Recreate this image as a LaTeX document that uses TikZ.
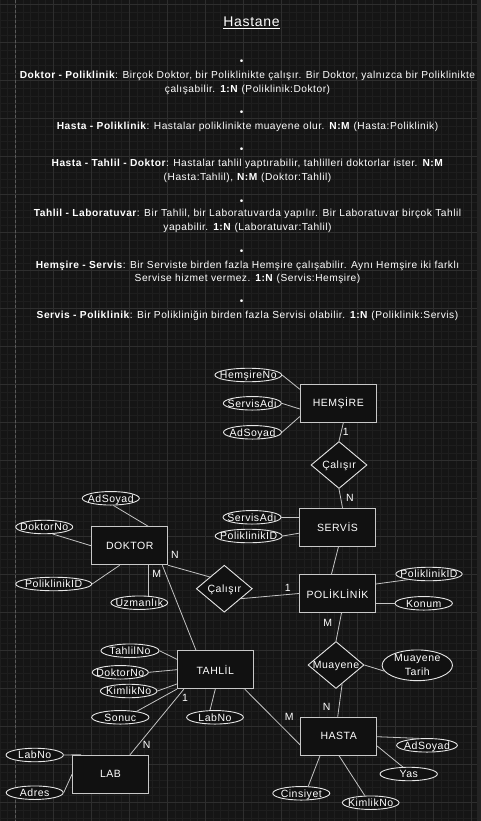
\documentclass[tikz,border=0pt]{standalone}
\usepackage{fontspec}
\setmainfont{Liberation Sans}[LetterSpace=5]
\usetikzlibrary{shapes.geometric}
\definecolor{bgc}{HTML}{151515}
\definecolor{minorc}{HTML}{1E1E1E}
\definecolor{majorc}{HTML}{2E2E2E}
\definecolor{boxfill}{HTML}{111111}
\definecolor{boxline}{HTML}{C8C8C8}
\definecolor{elline}{HTML}{E6E6E6}
\definecolor{conn}{HTML}{C4C4C4}
\definecolor{pagec}{HTML}{5A5A5A}
\definecolor{scrollc}{HTML}{242424}
\newcommand{\fixt}[1]{\makebox[0pt]{#1}}
\tikzset{
  entity/.style={draw=boxline, fill=boxfill, line width=0.9pt, minimum width=76pt, minimum height=38pt, inner sep=0pt, text=white, font=\fontsize{10.5}{12}\selectfont},
  attr/.style={ellipse, draw=elline, fill=boxfill, line width=0.9pt, minimum height=13.5pt, inner sep=0pt, text=white, text height=7.5pt, text depth=0pt, font=\fontsize{10.5}{12}\selectfont},
  rel/.style={diamond, draw=elline, fill=boxfill, line width=0.9pt, minimum width=56pt, minimum height=47pt, inner sep=0pt, text=white, text height=7.5pt, text depth=0pt, font=\fontsize{10.5}{12}\selectfont},
  link/.style={draw=conn, line width=0.8pt},
  card/.style={text=white, inner sep=0pt, font=\fontsize{10.5}{12}\selectfont},
  para/.style={text=white, align=center, inner sep=0pt, font=\fontsize{10.2}{13.6}\selectfont},
  bul/.style={text=white, inner sep=0pt, font=\fontsize{10}{10}\selectfont},
  minorgrid/.style={draw=minorc, line width=0.6pt},
  majorgrid/.style={draw=majorc, line width=0.8pt}
}
\begin{document}
\begin{tikzpicture}[x=1pt,y=-1pt]
\useasboundingbox (0,0) rectangle (481,821);
\fill[bgc] (0,0) rectangle (481,821);
\foreach \i in {-2,...,61} { \draw[minorgrid] ({15.3+7.6*\i},0) -- ({15.3+7.6*\i},821); }
\foreach \j in {0,...,108} { \draw[minorgrid] (0,{4.7+7.6*\j}) -- (481,{4.7+7.6*\j}); }
\foreach \i in {-1,...,12} { \draw[majorgrid] ({15.3+38*\i},0) -- ({15.3+38*\i},821); }
\foreach \j in {0,...,21} { \draw[majorgrid] (0,{4.7+38*\j}) -- (481,{4.7+38*\j}); }
\draw[pagec, line width=0.8pt, dash pattern=on 3pt off 2pt] (15.3,0) -- (15.3,821);
\fill[scrollc] (476.5,0) rectangle (481,821);

% text block
\node[text=white, inner sep=0pt, font=\fontsize{14}{16}\selectfont] (title) at (251.5,22.7) {\underline{Hastane}};
\node[bul] (b1) at (241.7,61.7) {•};
\node[para] (p1) at (247.5,83) {\textbf{Doktor - Poliklinik}: Birçok Doktor, bir Poliklinikte çalışır. Bir Doktor, yalnızca bir Poliklinikte\\ çalışabilir. \textbf{1:N} (Poliklinik:Doktor)};
\node[bul] (b2) at (241.7,113) {•};
\node[para] (p2) at (247.5,126.7) {\textbf{Hasta - Poliklinik}: Hastalar poliklinikte muayene olur. \textbf{N:M} (Hasta:Poliklinik)};
\node[bul] (b3) at (241.7,150) {•};
\node[para] (p3) at (247.5,170.8) {\textbf{Hasta - Tahlil - Doktor}: Hastalar tahlil yaptırabilir, tahlilleri doktorlar ister. \textbf{N:M}\\ (Hasta:Tahlil), \textbf{N:M} (Doktor:Tahlil)};
\node[bul] (b4) at (241.7,201.7) {•};
\node[para] (p4) at (247.5,220.9) {\textbf{Tahlil - Laboratuvar}: Bir Tahlil, bir Laboratuvarda yapılır. Bir Laboratuvar birçok Tahlil\\ yapabilir. \textbf{1:N} (Laboratuvar:Tahlil)};
\node[bul] (b5) at (241.7,251.7) {•};
\node[para] (p5) at (247.5,272.4) {\textbf{Hemşire - Servis}: Bir Serviste birden fazla Hemşire çalışabilir. Aynı Hemşire iki farklı\\ Servise hizmet vermez. \textbf{1:N} (Servis:Hemşire)};
\node[bul] (b6) at (241.7,302.3) {•};
\node[para] (p6) at (247.5,315.7) {\textbf{Servis - Poliklinik}: Bir Polikliniğin birden fazla Servisi olabilir. \textbf{1:N} (Poliklinik:Servis)};

% entities
\node[entity] (hem) at (338.3,403.5) {HEMŞİRE};
\node[entity] (srv) at (337.5,527.2) {SERVİS};
\node[entity] (pol) at (337.5,593.5) {POLİKLİNİK};
\node[entity] (dok) at (129.7,545.8) {DOKTOR};
\node[entity] (tah) at (215.3,669.7) {TAHLİL};
\node[entity] (lab) at (110.5,774.2) {LAB};
\node[entity] (has) at (338.7,736.2) {HASTA};

% relationships
\node[rel] (cal1) at (339,465) {\fixt{Çalışır}};
\node[rel] (cal2) at (224.3,588.7) {\fixt{Çalışır}};
\node[rel] (mua) at (336,665) {\fixt{Muayene}};

% attributes
\node[attr, minimum width=66.7pt] (hemNo) at (248.3,375) {\fixt{HemşireNo}};
\node[attr, minimum width=58pt] (hemSA) at (252.3,403.3) {\fixt{ServisAdı}};
\node[attr, minimum width=58pt] (hemAS) at (252.5,432.3) {\fixt{AdSoyad}};
\node[attr, minimum width=58pt] (srvSA) at (252,517.3) {\fixt{ServisAdı}};
\node[attr, minimum width=67pt] (srvPID) at (248.7,536) {\fixt{PoliklinikID}};
\node[attr, minimum width=66.3pt] (polPID) at (429,574) {\fixt{PoliklinikID}};
\node[attr, minimum width=57.3pt] (polKon) at (423.7,603.3) {\fixt{Konum}};
\node[attr, minimum width=57pt] (dokAS) at (110.8,498.3) {\fixt{AdSoyad}};
\node[attr, minimum width=57pt] (dokNo) at (44.2,527) {\fixt{DoktorNo}};
\node[attr, minimum width=76pt] (dokPID) at (53.7,584) {\fixt{PoliklinikID}};
\node[attr, minimum width=56.7pt] (dokUz) at (139.3,602.7) {\fixt{Uzmanlık}};
\node[attr, minimum width=58pt] (tahNo) at (130,650.7) {\fixt{TahlilNo}};
\node[attr, minimum width=56pt] (tahDN) at (120.3,672.3) {\fixt{DoktorNo}};
\node[attr, minimum width=56.7pt] (tahKN) at (128.7,691) {\fixt{KimlikNo}};
\node[attr, minimum width=57.3pt] (tahSon) at (120.3,717.3) {\fixt{Sonuc}};
\node[attr, minimum width=56.7pt] (tahLab) at (215,717.3) {\fixt{LabNo}};
\node[attr, minimum width=57.3pt] (labNo) at (34.7,755) {\fixt{LabNo}};
\node[attr, minimum width=57pt] (labAd) at (34.7,792.7) {\fixt{Adres}};
\node[attr, minimum width=70.3pt, minimum height=30.7pt, text height=, text depth=, font=\fontsize{10.5}{13.5}\selectfont] (muaT) at (417.3,665.3) {\fixt{\shortstack{Muayene\\[1pt]Tarih}}};
\node[attr, minimum width=60.7pt] (hasAS) at (427,745.3) {\fixt{AdSoyad}};
\node[attr, minimum width=57.3pt] (hasYas) at (408.7,774) {\fixt{Yas}};
\node[attr, minimum width=57pt] (hasCin) at (301.3,793.3) {\fixt{Cinsiyet}};
\node[attr, minimum width=56.7pt] (hasKN) at (370.7,802.7) {\fixt{KimlikNo}};

% connectors
\draw[link] (hemNo.east) -- ([yshift=14.2pt]hem.west);
\draw[link] (hemSA.east) -- ([yshift=-5.5pt]hem.west);
\draw[link] (hemAS.east) -- ([yshift=-13pt]hem.west);
\draw[link] ([xshift=5pt]hem.south) -- (cal1.north);
\draw[link] (cal1.south) -- ([xshift=5pt]srv.north);
\draw[link] (srvSA.east) -- ([yshift=9.9pt]srv.west);
\draw[link] (srvPID.east) -- ([yshift=-6pt]srv.west);
\draw[link] ([xshift=1pt]srv.south) -- ([xshift=-6pt]pol.north);
\draw[link] ([yshift=9.5pt]pol.east) -- (polPID.195);
\draw[link] ([yshift=-9.8pt]pol.east) -- (polKon.west);
\draw[link] (cal2.-31) -- (pol.west);
\draw[link] (dok.south east) -- (cal2.141);
\draw[link] (dokAS.-70) -- ([xshift=18.6pt]dok.north);
\draw[link] (dokNo.-40) -- (dok.west);
\draw[link] (dokPID.east) -- ([xshift=-10pt]dok.south);
\draw[link] ([xshift=9pt]dokUz.north) -- ([xshift=18.6pt]dok.south);
\draw[link] ([xshift=32.6pt]dok.south) -- ([xshift=-19.3pt]tah.north);
\draw[link] (tahNo.east) -- ([yshift=10.4pt]tah.west);
\draw[link] (tahDN.east) -- (tah.west);
\draw[link] (tahKN.east) -- ([yshift=-14.3pt]tah.west);
\draw[link] (tahSon.20) -- (tah.south west);
\draw[link] ([xshift=-5pt]tahLab.north) -- (tah.south);
\draw[link] ([xshift=7pt]tah.south west) -- ([xshift=19.5pt]lab.north);
\draw[link] ([xshift=-9pt]tah.south east) -- ([yshift=-8.8pt]has.west);
\draw[link] (labNo.east) -- ([xshift=9pt]lab.north west);
\draw[link] (labAd.east) -- (lab.west);
\draw[link] ([xshift=4pt]pol.south) -- (mua.north);
\draw[link] (mua.east) -- (muaT.190);
\draw[link] (mua.-72) -- ([xshift=-1pt]has.north);
\draw[link] ([yshift=-0.5pt]has.east) -- (hasAS.140);
\draw[link] ([yshift=-9.8pt]has.east) -- (hasYas.130);
\draw[link] ([xshift=-18.7pt]has.south) -- ([xshift=7pt]hasCin.north);
\draw[link] ([xshift=0.3pt]has.south) -- ([xshift=-6pt]hasKN.north);

% cardinalities
\node[card] (c1) at (345.7,432.3) {1};
\node[card] (c2) at (350,498.3) {N};
\node[card] (c3) at (287.7,588.3) {1};
\node[card] (c4) at (175,555) {N};
\node[card] (c5) at (156.7,574.3) {M};
\node[card] (c6) at (327.7,622.7) {M};
\node[card] (c7) at (185,698.3) {1};
\node[card] (c8) at (146.7,745) {N};
\node[card] (c9) at (289.3,717.3) {M};
\node[card] (c10) at (326.7,707.3) {N};
\end{tikzpicture}
\end{document}
